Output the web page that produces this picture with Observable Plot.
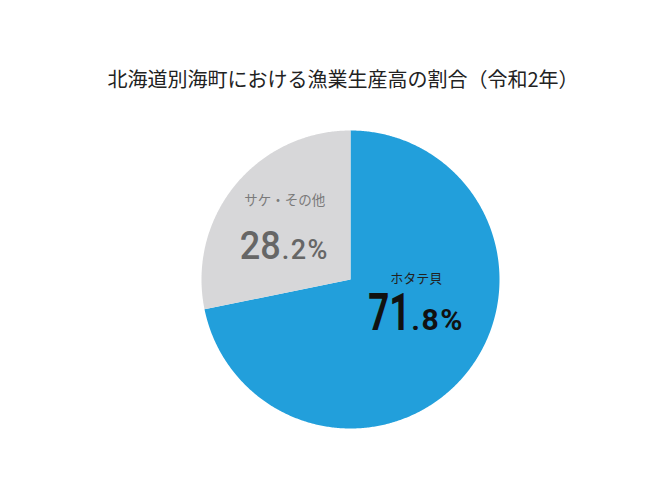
<!DOCTYPE html>
<html>
<head>
<meta charset="utf-8">
<script src="https://cdn.jsdelivr.net/npm/d3@7"></script>
<script src="https://cdn.jsdelivr.net/npm/@observablehq/plot@0.6"></script>
<style>
  html, body { margin: 0; padding: 0; background: #fff; }
  #wrap { width: 664px; height: 487px; overflow: hidden; }
  h2 {
    margin: 0; padding: 67px 0 0 22px; font-size: 20px; line-height: 24px;
    font-weight: 400; text-align: center; color: #222;
    font-family: "Noto Sans CJK JP", "Noto Sans", sans-serif;
  }
</style>
</head>
<body>
<div id="wrap">
  <h2>北海道別海町における漁業生産高の割合（令和2年）</h2>
  <div id="chart"></div>
</div>
<script>
const categories = ["ホタテ貝", "サケ・その他"];
const shares = [71.8, 28.2];
const colors = ["#229fdb", "#d7d7d9"];

// build slice outlines (unit circle, clockwise from 12 o'clock)
const total = d3.sum(shares);
const slices = [];
const labels = [];
let acc = 0;
categories.forEach((cat, i) => {
  const a0 = acc / total * 2 * Math.PI;
  acc += shares[i];
  const a1 = acc / total * 2 * Math.PI;
  slices.push({category: cat, x: 0, y: 0});
  const n = Math.max(2, Math.ceil((a1 - a0) / (Math.PI / 360)));
  for (let k = 0; k <= n; k++) {
    const a = a0 + (a1 - a0) * k / n;
    slices.push({category: cat, x: Math.sin(a), y: Math.cos(a)});
  }
  slices.push({category: cat, x: 0, y: 0});
  const am = (a0 + a1) / 2;
  const [intPart, decPart] = shares[i].toFixed(1).split(".");
  labels.push({category: cat, x: 0.57 * Math.sin(am), y: 0.57 * Math.cos(am),
               big: intPart, small: "." + decPart + "%"});
});

const numFont = "Roboto, sans-serif";
const jpFont = "'Noto Sans CJK JP', sans-serif";

function labelMarks(cat, o) {
  const d = labels.filter(l => l.category === cat);
  return [
    Plot.text(d, {x: "x", y: "y", text: "category", lineAnchor: "bottom",
      dy: o.nameDy, fontSize: o.nameSize, fill: o.nameFill, fontFamily: jpFont}),
    Plot.text(d, {x: "x", y: "y", text: "big", lineAnchor: "bottom", textAnchor: "end",
      dx: o.dx, dy: o.numDy, fontSize: o.bigSize, fontWeight: o.weight, fill: o.numFill, fontFamily: numFont,
      ariaDescription: "big-" + o.key}),
    Plot.text(d, {x: "x", y: "y", text: "small", lineAnchor: "bottom", textAnchor: "start",
      dx: o.dx + o.gap, dy: o.numDy, fontSize: o.smallSize, fontWeight: o.weight, fill: o.numFill, fontFamily: numFont,
      ariaDescription: "small-" + o.key})
  ];
}

const chart = Plot.plot({
  width: 664,
  height: 396,
  margin: 0,
  x: {domain: [-1, 1], range: [201, 499], axis: null},
  y: {domain: [-1, 1], range: [337, 39], axis: null},
  color: {domain: categories, range: colors},
  marks: [
    Plot.line(slices, {x: "x", y: "y", z: "category", fill: "category", stroke: null, curve: "linear"}),
    ...labelMarks("ホタテ貝", {key: "a", nameDy: -50, numDy: -3, dx: -6, gap: 1, bigSize: 51, smallSize: 30, weight: 700, nameSize: 13, nameFill: "#222", numFill: "#111"}),
    ...labelMarks("サケ・その他", {key: "b", nameDy: -21, numDy: 33, dx: -4, gap: 1, bigSize: 38, smallSize: 27, weight: 500, nameSize: 13.5, nameFill: "#7a7a7a", numFill: "#666"})
  ]
});
// condensed look for the numbers
const squeeze = (sel, s) => d3.select(chart).selectAll(sel).each(function() {
  const t = this.getAttribute("transform") || "";
  this.setAttribute("transform", t + ` scale(${s},1)`);
});
squeeze('[aria-description="big-a"] text', 0.72);
squeeze('[aria-description="big-b"] text', 0.95);
d3.select(chart).selectAll('[aria-description^="small"] text').style("letter-spacing", "1.5px");
document.getElementById("chart").appendChild(chart);
</script>
</body>
</html>
